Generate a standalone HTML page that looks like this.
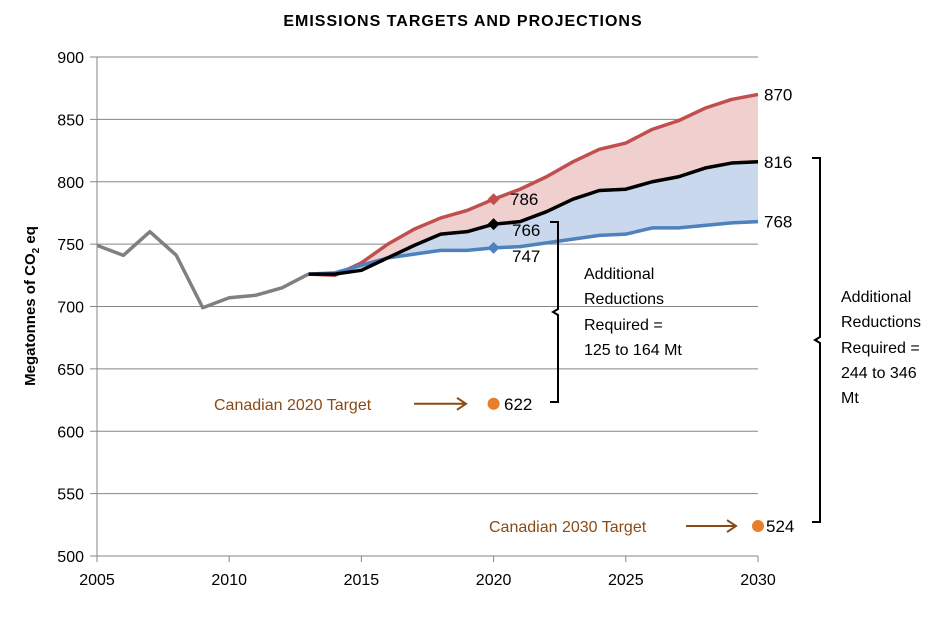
<!DOCTYPE html>
<html><head><meta charset="utf-8"><style>
body{margin:0;background:#fff;}
svg{display:block;font-family:"Liberation Sans",sans-serif;}
</style></head><body>
<svg id="chart" width="947" height="620" viewBox="0 0 947 620">
<text x="463" y="26" text-anchor="middle" font-size="16" letter-spacing="1" font-weight="bold">EMISSIONS TARGETS AND PROJECTIONS</text>
<g id="grid"></g><g id="fills"></g><g id="lines"></g><g id="axes"></g><g id="labels"></g>
<text transform="translate(35,306) rotate(-90)" text-anchor="middle" font-size="15" font-weight="bold">Megatonnes of CO<tspan font-size="10" dy="4">2</tspan><tspan dy="-4"> eq</tspan></text>
</svg>
<script>
const histYears=[2005,2006,2007,2008,2009,2010,2011,2012,2013];
const histVals=[749,741,760,741,699,707,709,715,726];
const projYears=[2013,2014,2015,2016,2017,2018,2019,2020,2021,2022,2023,2024,2025,2026,2027,2028,2029,2030];
const lowVals=[726,727,733,739,742,745,745,747,748,751,754,757,758,763,763,765,767,768];
const midVals=[726,726,729,739,749,758,760,766,768,776,786,793,794,800,804,811,815,816];
const highVals=[726,725,735,750,762,771,777,786,794,804,816,826,831,842,849,859,866,870];
const yTicks=[500,550,600,650,700,750,800,850,900];
const xTicks=[2005,2010,2015,2020,2025,2030];
const target2020=622, target2030=524;
const X=y=>97+(y-2005)*(661/25);
const Y=v=>556-(v-500)*(499/400);
const NS="http://www.w3.org/2000/svg";
function mk(tag,parent,attrs){const e=document.createElementNS(NS,tag);for(const k in attrs)e.setAttribute(k,attrs[k]);document.getElementById(parent).appendChild(e);return e;}
yTicks.forEach(t=>{
 const l=mk('line','grid',{x1:90,x2:758,y1:Y(t),y2:Y(t),stroke:'#868686','stroke-width':1});
 
 
 const tx=mk('text','axes',{x:84,y:Y(t)+6,'text-anchor':'end','font-size':16});
 tx.textContent=t;
 
 
});
xTicks.forEach(t=>{
 const tx=mk('text','axes',{x:X(t),y:585,'text-anchor':'middle','font-size':16});
 tx.textContent=t;
 
 
 const tk=mk('line','axes',{x1:X(t),x2:X(t),y1:556,y2:562,stroke:'#868686'});
 
 
});
const ax=mk('line','axes',{x1:97,x2:97,y1:57,y2:556,stroke:'#868686'});


const xa=mk('line','axes',{x1:97,x2:758,y1:556,y2:556,stroke:'#868686'});


const pts=(xs,vs)=>xs.map((y,i)=>X(y)+','+Y(vs[i]));
const band=(a,b)=>pts(projYears,a).concat(pts(projYears,b).reverse()).join(' ');
const f1=mk('polygon','fills',{points:band(highVals,midVals),fill:'#f0cfcf'});


const f2=mk('polygon','fills',{points:band(midVals,lowVals),fill:'#c9d8ec'});


function line(xs,vs,col,name){const p=mk('polyline','lines',{points:pts(xs,vs).join(' '),fill:'none',stroke:col,'stroke-width':3.5,'stroke-linejoin':'round'});
 
 }
line(histYears,histVals,'#808080','historical-line');
line(projYears,highVals,'#c0504d','high-projection-line');
line(projYears,lowVals,'#4f81bd','low-projection-line');
line(projYears,midVals,'#000','mid-projection-line');
function diamond(v,col,name){const x=X(2020),y=Y(v);const d=mk('polygon','lines',{points:`${x},${y-6} ${x+6},${y} ${x},${y+6} ${x-6},${y}`,fill:col});
 
 }
const i20=projYears.indexOf(2020);
diamond(highVals[i20],'#c0504d','marker-high-2020');
diamond(midVals[i20],'#000','marker-mid-2020');
diamond(lowVals[i20],'#4f81bd','marker-low-2020');
function lab(x,y,t,name,col,size){const e=mk('text','labels',{x:x,y:y,'font-size':size||17,fill:col||'#000'});e.textContent=t;
 
 return e;}
lab(510,Y(highVals[i20])+6,highVals[i20],'label-high-2020');
lab(512,Y(midVals[i20])+12,midVals[i20],'label-mid-2020');
lab(512,Y(lowVals[i20])+14,lowVals[i20],'label-low-2020');
const n=projYears.length-1;
lab(764,Y(highVals[n])+6,highVals[n],'label-high-2030');
lab(764,Y(midVals[n])+6,midVals[n],'label-mid-2030');
lab(764,Y(lowVals[n])+6,lowVals[n],'label-low-2030');
const c1=mk('circle','labels',{cx:X(2020),cy:Y(target2020),r:6,fill:'#e87d2a'});


const c2=mk('circle','labels',{cx:X(2030),cy:Y(target2030),r:6,fill:'#e87d2a'});


lab(504,Y(target2020)+6,target2020,'label-target-2020');
lab(766,Y(target2030)+6,target2030,'label-target-2030');
lab(214,Y(target2020)+6,'Canadian 2020 Target','target-2020-text','#8b4a14',16);
lab(489,Y(target2030)+6,'Canadian 2030 Target','target-2030-text','#8b4a14',16);
function arrow(x1,x2,y,name){const g=mk('path','labels',{d:`M${x1},${y} L${x2},${y} M${x2-9},${y-6} L${x2},${y} L${x2-9},${y+6}`,stroke:'#8b4a14','stroke-width':2,fill:'none'});
 
 }
arrow(414,466,Y(target2020),'arrow-2020');
arrow(686,736,Y(target2030),'arrow-2030');
function brace(x,y1,y2,name){const m=(y1+y2)/2;const p=mk('path','labels',{d:`M${x-8},${y1} L${x},${y1} L${x},${m-3} L${x-5},${m} L${x},${m+3} L${x},${y2} L${x-8},${y2}`,stroke:'#000','stroke-width':2,fill:'none'});
 
 }
brace(558,222,402,'brace-2020');
brace(820,158,522,'brace-2030');
[['Additional',279],['Reductions',304],['Required =',330],['125 to 164 Mt',355]].forEach((a,i)=>lab(584,a[1],a[0],'reduction-2020-text-'+i,'#000',16));
[['Additional',302],['Reductions',327],['Required =',353],['244 to 346',378],['Mt',403]].forEach((a,i)=>lab(841,a[1],a[0],'reduction-2030-text-'+i,'#000',16));
</script>
</body></html>
